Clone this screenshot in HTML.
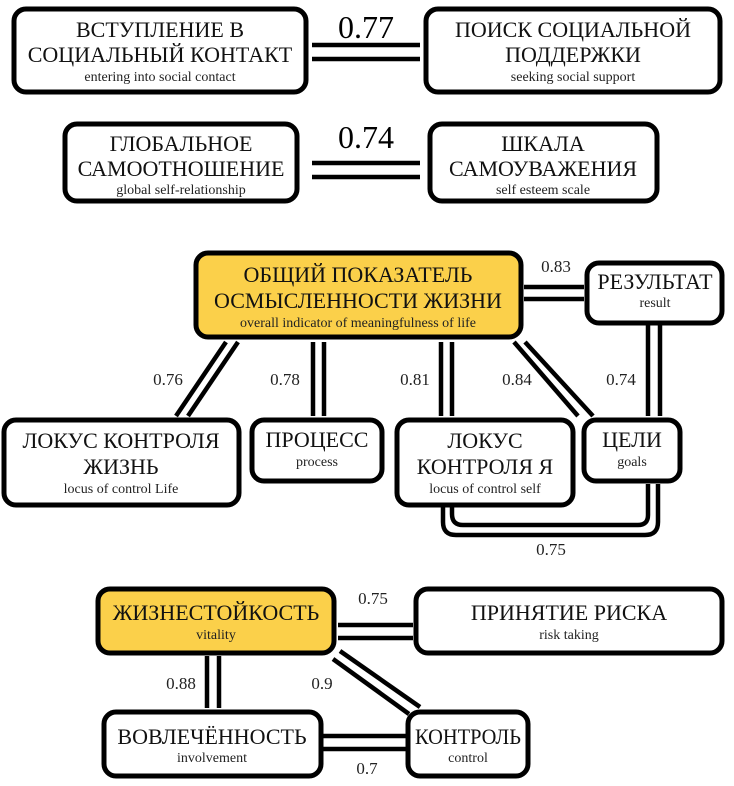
<!DOCTYPE html>
<html><head><meta charset="utf-8"><style>
html,body{margin:0;padding:0;background:#fff;}
svg{display:block;font-family:"Liberation Serif","DejaVu Serif",serif;}
.t{font-size:22px;fill:#111;text-anchor:middle;}
.e{font-size:14px;fill:#222;text-anchor:middle;}
.n{font-size:17px;fill:#222;text-anchor:middle;}
.b{fill:#fff;stroke:#000;stroke-width:5;}
.y{fill:#FBD04A;stroke:#000;stroke-width:5;}
.l{stroke:#000;stroke-width:4.5;fill:none;}
</style></head><body>
<svg width="734" height="786" viewBox="0 0 734 786">
<!-- row1 -->
<rect class="b" x="14" y="9" width="292" height="83" rx="12"/>
<text class="t" x="160" y="37">ВСТУПЛЕНИЕ В</text>
<text class="t" x="160" y="62">СОЦИАЛЬНЫЙ КОНТАКТ</text>
<text class="e" x="160" y="81">entering into social contact</text>
<rect class="b" x="426" y="9" width="294" height="83" rx="12"/>
<text class="t" x="573" y="37">ПОИСК СОЦИАЛЬНОЙ</text>
<text class="t" x="573" y="62">ПОДДЕРЖКИ</text>
<text class="e" x="573" y="81">seeking social support</text>
<text x="366" y="38" style="font-size:32px;text-anchor:middle">0.77</text>
<line class="l" x1="312" y1="45" x2="420" y2="45"/><line class="l" x1="312" y1="59" x2="420" y2="59"/>
<!-- row2 -->
<rect class="b" x="65" y="124" width="232" height="77" rx="12"/>
<text class="t" x="181" y="151">ГЛОБАЛЬНОЕ</text>
<text class="t" x="181" y="176">САМООТНОШЕНИЕ</text>
<text class="e" x="181" y="194">global self-relationship</text>
<rect class="b" x="430" y="124" width="227" height="77" rx="12"/>
<text class="t" x="543" y="151">ШКАЛА</text>
<text class="t" x="543" y="176">САМОУВАЖЕНИЯ</text>
<text class="e" x="543" y="194">self esteem scale</text>
<text x="366" y="148" style="font-size:32px;text-anchor:middle">0.74</text>
<line class="l" x1="312" y1="163" x2="420" y2="163"/><line class="l" x1="312" y1="177" x2="420" y2="177"/>
<!-- middle connectors -->
<line class="l" x1="226" y1="342" x2="176" y2="416"/><line class="l" x1="238" y1="342" x2="188" y2="416"/>
<line class="l" x1="313" y1="342" x2="313" y2="416"/><line class="l" x1="324" y1="342" x2="324" y2="416"/>
<line class="l" x1="441" y1="342" x2="441" y2="416"/><line class="l" x1="452" y1="342" x2="452" y2="416"/>
<line class="l" x1="514" y1="342" x2="578" y2="416"/><line class="l" x1="525" y1="342" x2="593" y2="416"/>
<line class="l" x1="648" y1="324" x2="648" y2="416"/><line class="l" x1="660" y1="324" x2="660" y2="416"/>
<line class="l" x1="524" y1="287" x2="584" y2="287"/><line class="l" x1="524" y1="299" x2="584" y2="299"/>
<path class="l" d="M452 506 V514 Q452 525 463 525 H638 Q648 525 648 515 V484"/>
<path class="l" d="M443 506 V522 Q443 535 456 535 H645 Q658 535 658 522 V484"/>
<text class="n" x="168" y="385">0.76</text>
<text class="n" x="285" y="385">0.78</text>
<text class="n" x="415" y="385">0.81</text>
<text class="n" x="517" y="385">0.84</text>
<text class="n" x="621" y="385">0.74</text>
<text class="n" x="556" y="272">0.83</text>
<text class="n" x="551" y="555">0.75</text>
<!-- middle boxes -->
<rect class="y" x="196" y="253" width="325" height="84" rx="12"/>
<text class="t" x="358" y="282">ОБЩИЙ ПОКАЗАТЕЛЬ</text>
<text class="t" x="358" y="308">ОСМЫСЛЕННОСТИ ЖИЗНИ</text>
<text class="e" x="358" y="327">overall indicator of meaningfulness of life</text>
<rect class="b" x="587" y="263" width="135" height="60" rx="12"/>
<text class="t" x="655" y="289">РЕЗУЛЬТАТ</text>
<text class="e" x="655" y="307">result</text>
<rect class="b" x="4" y="420" width="235" height="85" rx="12"/>
<text class="t" x="121" y="448">ЛОКУС КОНТРОЛЯ</text>
<text class="t" x="121" y="474">ЖИЗНЬ</text>
<text class="e" x="121" y="493">locus of control Life</text>
<rect class="b" x="252" y="420" width="130" height="61" rx="12"/>
<text class="t" x="317" y="447">ПРОЦЕСС</text>
<text class="e" x="317" y="466">process</text>
<rect class="b" x="397" y="420" width="176" height="85" rx="12"/>
<text class="t" x="485" y="448">ЛОКУС</text>
<text class="t" x="485" y="474">КОНТРОЛЯ Я</text>
<text class="e" x="485" y="493">locus of control self</text>
<rect class="b" x="584" y="420" width="96" height="61" rx="12"/>
<text class="t" x="632" y="447">ЦЕЛИ</text>
<text class="e" x="632" y="466">goals</text>
<!-- bottom -->
<line class="l" x1="338" y1="625" x2="413" y2="625"/><line class="l" x1="338" y1="638" x2="413" y2="638"/>
<line class="l" x1="207" y1="656" x2="207" y2="708"/><line class="l" x1="219" y1="656" x2="219" y2="708"/>
<line class="l" x1="333" y1="659" x2="409" y2="714"/><line class="l" x1="340" y1="651" x2="420" y2="707"/>
<line class="l" x1="323" y1="736" x2="407" y2="736"/><line class="l" x1="323" y1="749" x2="407" y2="749"/>
<text class="n" x="373" y="604">0.75</text>
<text class="n" x="181" y="689">0.88</text>
<text class="n" x="322" y="689">0.9</text>
<text class="n" x="367" y="774">0.7</text>
<rect class="y" x="98" y="589" width="236" height="64" rx="12"/>
<text class="t" x="216" y="620">ЖИЗНЕСТОЙКОСТЬ</text>
<text class="e" x="216" y="639">vitality</text>
<rect class="b" x="416" y="589" width="306" height="64" rx="12"/>
<text class="t" x="569" y="620">ПРИНЯТИЕ РИСКА</text>
<text class="e" x="569" y="639">risk taking</text>
<rect class="b" x="104" y="712" width="217" height="64" rx="12"/>
<text class="t" x="212" y="744">ВОВЛЕЧЁННОСТЬ</text>
<text class="e" x="212" y="762">involvement</text>
<rect class="b" x="408" y="712" width="120" height="64" rx="12"/>
<text class="t" x="468" y="744" textLength="106" lengthAdjust="spacingAndGlyphs">КОНТРОЛЬ</text>
<text class="e" x="468" y="762">control</text>
</svg>
</body></html>
